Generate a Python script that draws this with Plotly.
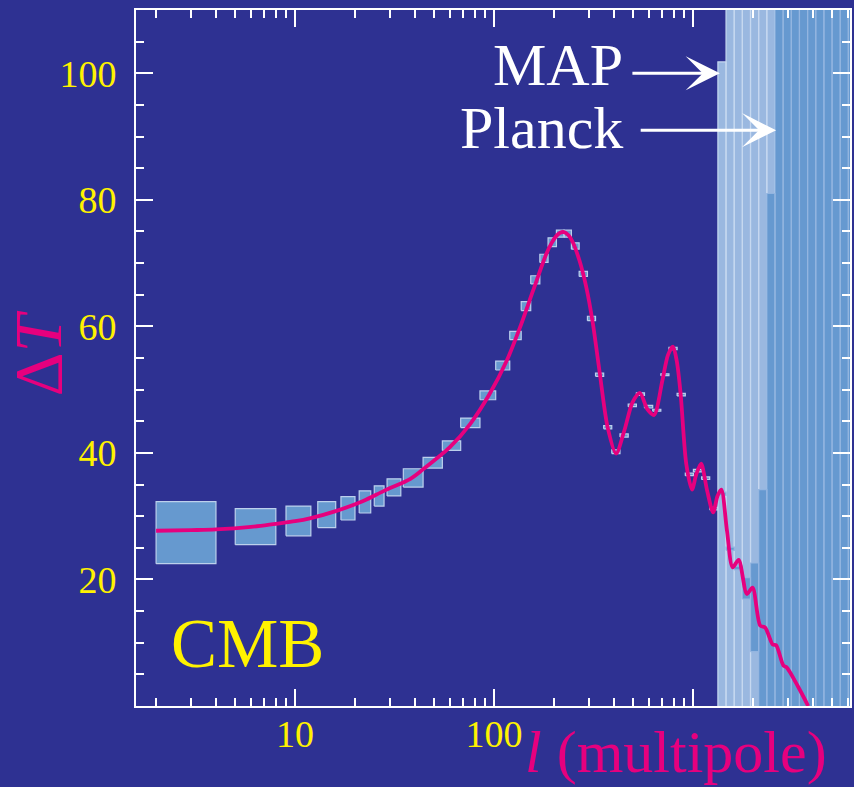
import numpy as np
import plotly.graph_objects as go

# ---------------- data ----------------
# theoretical CMB temperature power spectrum, Delta T (muK) vs multipole l
curve_l = [2, 3, 4, 6, 8, 10, 12, 16, 22, 28, 38, 44, 60, 76, 95, 116, 135, 157,
           183, 195, 206, 215, 225, 237, 249, 269, 291, 314, 339, 373, 411, 452,
           497, 541, 591, 638, 702, 750, 794, 830, 868, 926, 990, 1040, 1100,
           1180, 1264, 1330, 1390, 1484, 1585, 1698, 1869, 1995, 2181, 2310,
           2521, 2622, 2851, 2962, 3388, 3800]
curve_t = [27.7, 27.8, 27.9, 28.3, 28.8, 29.2, 29.7, 30.8, 32.4, 34.0, 35.9, 37.4,
           40.9, 44.6, 49.3, 54.6, 59.8, 65.6, 71.4, 73.2, 74.3, 74.8, 74.9, 74.4,
           73.3, 70.4, 66.2, 60.5, 53.0, 44.0, 39.9, 43.5, 48.0, 49.5, 46.9, 46.0,
           51.4, 55.5, 56.8, 54.5, 49.3, 38.3, 34.2, 36.6, 38.3, 34.0, 30.6, 33.2,
           34.2, 27.7, 21.9, 23.1, 17.7, 18.7, 12.7, 12.4, 9.7, 9.6, 6.4, 6.1,
           3.0, 0.0]

# band-power error boxes (current measurements)
box_l_lo = [2, 5, 9, 13, 17, 21, 25, 29, 35, 44, 55, 68, 85, 102, 120, 137, 153,
            170, 187, 206, 225, 245, 268, 295, 324, 356, 391, 430, 473, 520, 571,
            628, 690, 758, 833, 916, 1006, 1106, 1215]
box_l_hi = [4, 8, 12, 16, 20, 24, 28, 34, 44, 55, 68, 85, 102, 120, 137, 153, 170,
            187, 206, 225, 245, 268, 295, 324, 356, 391, 430, 473, 520, 571, 628,
            690, 758, 833, 916, 1006, 1106, 1215, 1336]
box_t_lo = [22.5, 25.5, 26.9, 28.2, 29.4, 30.5, 31.6, 33.2, 34.6, 37.6, 40.4, 44.0,
            48.4, 53.1, 57.9, 62.5, 66.7, 70.1, 72.6, 74.1, 74.1, 72.2, 67.9, 60.9,
            52.1, 43.8, 39.9, 42.5, 47.3, 49.1, 47.1, 46.6, 52.2, 56.3, 49.0, 36.4,
            37.0, 35.8, 31.0]
box_t_hi = [32.3, 31.2, 31.6, 32.3, 33.1, 34.0, 34.8, 35.9, 37.5, 39.3, 41.9, 45.5,
            49.8, 54.5, 59.2, 63.9, 68.0, 71.4, 74.0, 75.2, 75.2, 73.2, 68.7, 61.6,
            52.6, 44.3, 40.5, 43.0, 47.7, 49.5, 47.5, 46.9, 52.5, 56.7, 49.4, 36.8,
            37.4, 36.2, 31.4]

# high-l bins with forecast errors for MAP and Planck
hl_edges = [1336, 1468, 1614, 1773, 1949, 2142, 2354, 2587, 2843, 3125, 3434,
            3774, 4148, 4558, 5010, 5506, 6051, 6650]
map_lo = [-45, -50, -55, -60, -70, -80, -90, -100, -110, -120, -130, -140, -150,
          -160, -170, -180, -190]
map_hi = [101.8, 115, 125, 135, 150, 165, 180, 200, 220, 240, 260, 280, 300, 320,
          340, 360, 380]
planck_lo = [33.3, 24.6, 21.5, 16.9, 8.6, -10, -25, -40, -50, -60, -70, -80, -90,
             -100, -110, -120, -130]
planck_hi = [33.8, 25.1, 22.1, 20.3, 22.6, 34.2, 81.0, 120, 140, 160, 180, 200,
             220, 240, 260, 280, 300]

# ---------------- style ----------------
BG = "#2E3192"
YELLOW = "#FFF200"
MAGENTA = "#E6007E"
SERIF = "Liberation Serif, Times New Roman, serif"


def box_path(l0, l1, t0, t1):
    """Outline of rectangular boxes, separated by gaps."""
    xs, ys = [], []
    for a, b, c, d in zip(l0, l1, t0, t1):
        xs += [a, b, b, a, a, None]
        ys += [c, c, d, d, c, None]
    return xs, ys


fig = go.Figure()

bx, by = box_path(box_l_lo, box_l_hi, box_t_lo, box_t_hi)
fig.add_trace(go.Scatter(x=bx, y=by, mode="lines", fill="toself",
                         fillcolor="#6699CF", line=dict(color="#BCD0EC", width=1.2),
                         hoverinfo="skip", showlegend=False))

mx, my = box_path(hl_edges[:-1], hl_edges[1:], map_lo, map_hi)
fig.add_trace(go.Scatter(x=mx, y=my, mode="lines", fill="toself",
                         fillcolor="#9AB8E0", line=dict(color="#C6D8F0", width=1.2),
                         hoverinfo="skip", showlegend=False))

px_, py_ = box_path(hl_edges[:-1], hl_edges[1:], planck_lo, planck_hi)
fig.add_trace(go.Scatter(x=px_, y=py_, mode="lines", fill="toself",
                         fillcolor="#6699D0", line=dict(color="#93B5E0", width=1.2),
                         hoverinfo="skip", showlegend=False))

fig.add_trace(go.Scatter(x=curve_l, y=curve_t, mode="lines",
                         line=dict(color=MAGENTA, width=3.8, shape="spline",
                                   smoothing=0.8),
                         hoverinfo="skip", showlegend=False))

axis_common = dict(showline=True, linecolor="white", linewidth=2, mirror="ticks",
                   ticks="inside", ticklen=17, tickwidth=2, tickcolor="white",
                   showgrid=False, zeroline=False,
                   tickfont=dict(family=SERIF, size=38, color=YELLOW))

x_minor = [m * 10 ** e for e in range(0, 4) for m in range(2, 10)]
fig.update_xaxes(type="log", range=[0.2, 3.79],
                 tickvals=[10, 100, 1000], ticktext=["10", "100", ""],
                 ticklabelstandoff=-7,
                 minor=dict(ticks="inside", ticklen=8, tickwidth=2,
                            tickcolor="white", tickvals=x_minor),
                 **axis_common)
fig.update_yaxes(range=[0, 110], tickvals=[20, 40, 60, 80, 100],
                 ticklabelstandoff=10,
                 minor=dict(ticks="inside", ticklen=8, tickwidth=2,
                            tickcolor="white", tickvals=list(range(0, 111, 5))),
                 **axis_common)

ann = []
# labels
ann.append(dict(text="CMB", xref="paper", yref="paper", x=0.046, y=0.089,
                xanchor="left", yanchor="middle", showarrow=False,
                font=dict(family=SERIF, size=69, color=YELLOW)))
ann.append(dict(text="MAP", xref="paper", yref="paper", x=0.685, y=0.921,
                xanchor="right", yanchor="middle", showarrow=False,
                font=dict(family=SERIF, size=60, color="white")))
ann.append(dict(text="Planck", xref="paper", yref="paper", x=0.685, y=0.830,
                xanchor="right", yanchor="middle", showarrow=False,
                font=dict(family=SERIF, size=60, color="white")))
ann.append(dict(text="Δ<i>T</i>", xref="paper", yref="paper", x=-0.137, y=0.507,
                xanchor="center", yanchor="middle", textangle=-90, showarrow=False,
                font=dict(family=SERIF, size=68, color=MAGENTA)))
ann.append(dict(text="<i>l</i> (multipole)", xref="paper", yref="paper",
                x=0.756, y=-0.066, xanchor="center", yanchor="middle",
                showarrow=False, font=dict(family=SERIF, size=60, color=MAGENTA)))

# arrows pointing at the first MAP box and the Planck boxes
ann.append(dict(text="", x=np.log10(hl_edges[0]) + 0.01, y=100,
                ax=np.log10(488), ay=100, xref="x", yref="y", axref="x", ayref="y",
                showarrow=True, arrowhead=3, arrowsize=1.9, arrowwidth=3,
                arrowcolor="white", standoff=0, startstandoff=0))
ann.append(dict(text="", x=np.log10(hl_edges[7]) + 0.006, y=91,
                ax=np.log10(537), ay=91, xref="x", yref="y", axref="x", ayref="y",
                showarrow=True, arrowhead=3, arrowsize=1.9, arrowwidth=3,
                arrowcolor="white", standoff=0, startstandoff=0))

fig.update_layout(width=854, height=787, autosize=False,
                  margin=dict(l=136, r=2, t=10, b=81),
                  paper_bgcolor=BG, plot_bgcolor=BG,
                  annotations=ann)

fig.write_html("out.html")
